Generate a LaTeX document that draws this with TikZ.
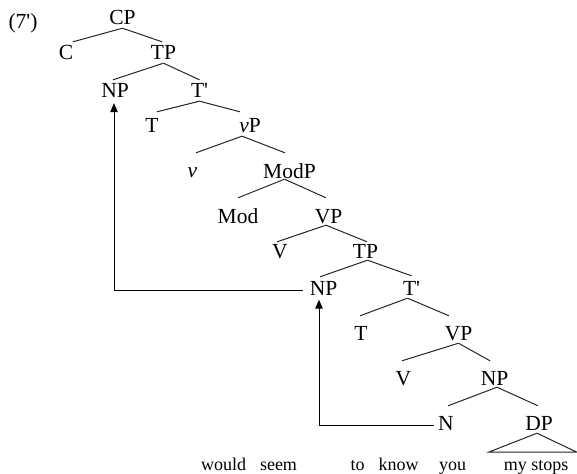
\documentclass[tikz,border=0pt]{standalone}
\usepackage{fontspec}
\setmainfont{Liberation Serif}
\usetikzlibrary{arrows.meta}
\begin{document}
\begin{tikzpicture}[x=1pt,y=-1pt,
  lab/.style={anchor=base, inner sep=0pt, text height=14pt, text depth=0pt, font=\fontsize{21.5}{24}\selectfont},
  word/.style={anchor=base, inner sep=0pt, font=\fontsize{18}{20}\selectfont},
  br/.style={line width=1pt, draw=black!85},
  mv/.style={line width=1pt, draw=black, -{Triangle[length=9pt,width=7.5pt]}}]
\useasboundingbox (0,0) rectangle (577,473);
% labels
\node[lab] (ex) at (23,29) {(7\textquotesingle)};
\node[lab] (cp) at (122.5,25) {CP};
\node[lab] (c) at (66,60) {C};
\node[lab] (tp1) at (163.5,60) {TP};
\node[lab] (np1) at (115,98) {NP};
\node[lab] (tb1) at (199.5,98) {T\textquotesingle};
\node[lab] (t1) at (152,133) {T};
\node[lab] (vp0) at (250,133) {\textit{v}P};
\node[lab] (v0) at (192.5,177) {\textit{v}};
\node[lab] (modp) at (289.5,178) {ModP};
\node[lab] (mod) at (238,223) {Mod};
\node[lab] (vp1) at (328.5,223) {VP};
\node[lab] (v1) at (280,258) {V};
\node[lab] (tp2) at (365.5,258) {TP};
\node[lab] (np2) at (323.5,295) {NP};
\node[lab] (tb2) at (411.5,295) {T\textquotesingle};
\node[lab] (t2) at (361,340) {T};
\node[lab] (vp2) at (458.5,340) {VP};
\node[lab] (v2) at (403.5,385) {V};
\node[lab] (np3) at (494.5,385) {NP};
\node[lab] (n) at (446,430) {N};
\node[lab] (dp) at (539,430) {DP};
% words
\node[word] (w1) at (223.5,470) {would};
\node[word] (w2) at (278.5,470) {seem};
\node[word] (w3) at (357.5,470) {to};
\node[word] (w4) at (398.5,470) {know};
\node[word] (w5) at (452.5,470) {you};
\node[word] (w6) at (536,470) {my stops};
% branches
\draw[br] ([yshift=-3pt]cp.south) -- ([xshift=7pt,yshift=4pt]c.north);
\draw[br] ([yshift=-3pt]cp.south) -- ([xshift=-1.5pt,yshift=4pt]tp1.north);
\draw[br] ([yshift=-3pt]tp1.south) -- ([xshift=-2pt,yshift=4pt]np1.north);
\draw[br] ([yshift=-3pt]tp1.south) -- ([yshift=4pt]tb1.north);
\draw[br] ([yshift=-3pt]tb1.south) -- ([xshift=5pt,yshift=7pt]t1.north);
\draw[br] ([yshift=-3pt]tb1.south) -- ([xshift=-10pt,yshift=7pt]vp0.north);
\draw[br] ([xshift=-8pt,yshift=-3pt]vp0.south) -- ([xshift=3.5pt,yshift=10pt]v0.north);
\draw[br] ([xshift=-8pt,yshift=-3pt]vp0.south) -- ([xshift=-4.5pt,yshift=11pt]modp.north);
\draw[br] ([xshift=-5pt,yshift=-1pt]modp.south) -- ([yshift=11pt]mod.north);
\draw[br] ([xshift=-5pt,yshift=-1pt]modp.south) -- ([xshift=-2.5pt,yshift=11pt]vp1.north);
\draw[br] ([xshift=-2.5pt,yshift=-2pt]vp1.south) -- ([xshift=-3pt,yshift=2pt]v1.north);
\draw[br] ([xshift=-2.5pt,yshift=-2pt]vp1.south) -- ([xshift=1.5pt,yshift=2pt]tp2.north);
\draw[br] ([xshift=2pt,yshift=-2pt]tp2.south) -- ([xshift=-3.5pt,yshift=4pt]np2.north);
\draw[br] ([xshift=2pt,yshift=-2pt]tp2.south) -- ([yshift=5pt]tb2.north);
\draw[br] ([xshift=-4pt,yshift=-3pt]tb2.south) -- ([xshift=-1pt,yshift=10pt]t2.north);
\draw[br] ([xshift=-4pt,yshift=-3pt]tb2.south) -- ([xshift=-9.5pt,yshift=10pt]vp2.north);
\draw[br] ([yshift=-3pt]vp2.south) -- ([xshift=-1.5pt,yshift=10pt]v2.north);
\draw[br] ([yshift=-3pt]vp2.south) -- ([xshift=-4.5pt,yshift=10pt]np3.north);
\draw[br] ([xshift=2.5pt,yshift=-2pt]np3.south) -- ([xshift=2pt,yshift=10pt]n.north);
\draw[br] ([xshift=2.5pt,yshift=-2pt]np3.south) -- ([xshift=-1pt,yshift=10pt]dp.north);
% triangle
\coordinate (tl) at (489,452);
\coordinate (tr) at (576.5,452);
\draw[br] ([xshift=-2pt,yshift=-3pt]dp.south) -- (tl) -- (tr) -- cycle;
% movement arrows
\draw[mv] ([xshift=-7pt,yshift=-2pt]np2.west) -| ([xshift=-1pt,yshift=-5pt]np1.south);
\draw[mv] ([xshift=-4pt,yshift=-2.5pt]n.west) -| ([xshift=-4.5pt,yshift=-4.5pt]np2.south);
\end{tikzpicture}
\end{document}
